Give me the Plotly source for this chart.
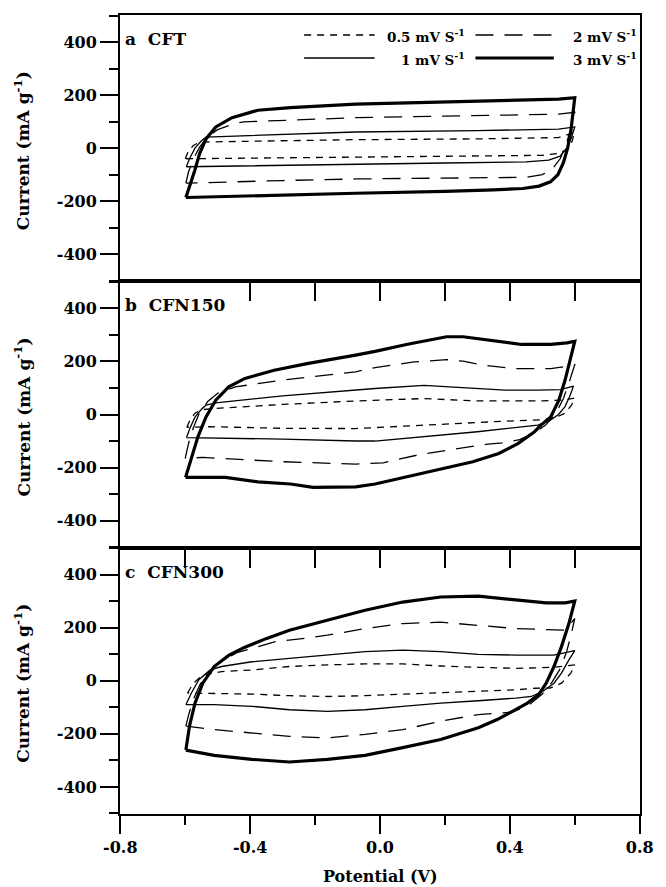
import plotly.graph_objects as go

# ---------------- data (Potential V, Current mA/g) ----------------
RATES = ["0.5", "1", "2", "3"]
PANEL_LABELS = ["a\u00a0\u00a0CFT", "b\u00a0\u00a0CFN150", "c\u00a0\u00a0CFN300"]
X_TICKS = [-0.8, -0.4, 0.0, 0.4, 0.8]
X_TICKTEXT = ["-0.8", "-0.4", "0.0", "0.4", "0.8"]
Y_TICKS = [-400, -200, 0, 200, 400]
Y_TICKTEXT = ["-400", "-200", "0", "200", "400"]

# panel a : CFT
A_05_V = [-0.60, -0.59, -0.575, -0.556, -0.30, -0.075, 0.30, 0.55, 0.60, 0.59, 0.575, 0.55, 0.50, 0.20, -0.075, -0.40, -0.60]
A_05_I = [-40, -10, 10, 23, 28, 32, 35, 40, 60, 20, -5, -20, -27, -30, -32, -36, -40]
A_1_V = [-0.597, -0.585, -0.57, -0.55, -0.536, -0.30, -0.075, 0.30, 0.55, 0.60, 0.59, 0.575, 0.555, 0.52, 0.45, 0.20, -0.075, -0.40, -0.597]
A_1_I = [-70, -35, 0, 28, 42, 52, 61, 66, 72, 80, 40, 0, -30, -45, -52, -56, -60, -65, -70]
A_2_V = [-0.598, -0.59, -0.575, -0.555, -0.53, -0.50, -0.45, -0.42, -0.075, 0.30, 0.55, 0.60, 0.59, 0.575, 0.555, 0.53, 0.50, 0.45, 0.20, -0.075, -0.30, -0.577, -0.598]
A_2_I = [-132, -90, -40, 5, 45, 70, 92, 99, 115, 122, 128, 135, 80, 20, -40, -80, -100, -110, -112, -116, -122, -129, -132]
A_3_V = [-0.598, -0.585, -0.571, -0.556, -0.536, -0.506, -0.456, -0.376, -0.276, -0.075, 0.20, 0.40, 0.55, 0.60, 0.595, 0.588, 0.578, 0.565, 0.548, 0.525, 0.49, 0.44, 0.35, 0.20, -0.075, -0.30, -0.50, -0.598]
A_3_I = [-186, -140, -85, -21, 35, 80, 115, 143, 153, 166, 175, 180, 185, 190, 130, 65, 0, -55, -100, -127, -143, -152, -157, -163, -170, -177, -182, -186]

# panel b : CFN150
B_05_V = [-0.595, -0.585, -0.57, -0.55, -0.506, -0.30, -0.075, -0.015, 0.135, 0.30, 0.50, 0.57, 0.60, 0.59, 0.57, 0.54, 0.50, 0.386, 0.20, -0.015, -0.075, -0.30, -0.526, -0.595]
B_05_I = [-48, -20, 5, 18, 23, 38, 51, 54, 60, 51, 51, 55, 62, 35, 5, -12, -20, -25, -36, -49, -53, -52, -46, -48]
B_1_V = [-0.596, -0.585, -0.57, -0.55, -0.536, -0.506, -0.30, -0.075, -0.015, 0.135, 0.236, 0.386, 0.486, 0.556, 0.596, 0.585, 0.57, 0.55, 0.52, 0.486, 0.30, 0.135, -0.015, -0.075, -0.30, -0.596]
B_1_I = [-87, -50, -10, 20, 35, 44, 70, 94, 98, 110, 102, 92, 92, 94, 107, 70, 30, 0, -25, -40, -65, -84, -100, -100, -93, -87]
B_2_V = [-0.60, -0.59, -0.575, -0.555, -0.53, -0.50, -0.446, -0.30, -0.075, -0.015, 0.105, 0.205, 0.256, 0.316, 0.416, 0.526, 0.576, 0.60, 0.585, 0.565, 0.54, 0.51, 0.476, 0.43, 0.376, 0.326, 0.22, 0.115, 0.01, -0.075, -0.30, -0.546, -0.60]
B_2_I = [-165, -110, -50, 10, 50, 80, 104, 130, 161, 177, 198, 207, 201, 186, 173, 173, 182, 188, 130, 60, 0, -40, -70, -95, -107, -113, -132, -153, -182, -187, -178, -162, -165]
B_3_V = [-0.599, -0.581, -0.561, -0.536, -0.506, -0.466, -0.416, -0.326, -0.225, -0.075, -0.015, 0.085, 0.205, 0.256, 0.336, 0.436, 0.526, 0.576, 0.60, 0.585, 0.57, 0.551, 0.526, 0.496, 0.476, 0.426, 0.366, 0.286, 0.185, 0.085, -0.015, -0.075, -0.206, -0.276, -0.376, -0.476, -0.599]
B_3_I = [-237, -160, -84, -9, 54, 104, 136, 167, 192, 224, 238, 265, 293, 293, 280, 264, 264, 270, 276, 205, 129, 54, -9, -40, -65, -109, -147, -178, -207, -235, -262, -273, -275, -262, -254, -237, -237]

# panel c : CFN300
C_05_V = [-0.593, -0.575, -0.546, -0.488, -0.395, -0.279, -0.162, -0.046, 0.070, 0.187, 0.303, 0.419, 0.535, 0.60, 0.588, 0.559, 0.524, 0.478, 0.419, 0.303, 0.187, 0.070, -0.046, -0.162, -0.279, -0.395, -0.511, -0.593]
C_05_I = [-46, -9, 22, 35, 41, 54, 60, 64, 64, 56, 51, 47, 51, 60, 29, -9, -27, -28, -34, -40, -46, -52, -56, -59, -56, -50, -46, -46]
C_1_V = [-0.598, -0.581, -0.558, -0.523, -0.488, -0.395, -0.279, -0.162, -0.046, 0.070, 0.187, 0.303, 0.419, 0.535, 0.60, 0.582, 0.559, 0.536, 0.501, 0.466, 0.419, 0.303, 0.187, 0.070, -0.046, -0.162, -0.279, -0.395, -0.511, -0.598]
C_1_I = [-90, -46, 4, 41, 54, 72, 85, 97, 110, 116, 110, 100, 97, 97, 114, 79, 29, -9, -40, -59, -65, -75, -84, -96, -109, -115, -109, -96, -90, -90]
C_2_V = [-0.598, -0.59, -0.575, -0.555, -0.53, -0.50, -0.441, -0.325, -0.232, -0.162, -0.046, 0.070, 0.187, 0.303, 0.419, 0.571, 0.60, 0.59, 0.575, 0.555, 0.53, 0.50, 0.46, 0.408, 0.303, 0.187, 0.070, -0.046, -0.162, -0.279, -0.395, -0.511, -0.598]
C_2_I = [-171, -130, -70, -15, 30, 65, 106, 147, 160, 172, 197, 216, 221, 210, 197, 191, 235, 180, 110, 45, -5, -50, -90, -118, -127, -152, -184, -202, -215, -209, -196, -184, -171]
C_3_V = [-0.598, -0.587, -0.570, -0.546, -0.511, -0.465, -0.418, -0.349, -0.279, -0.162, -0.046, 0.070, 0.187, 0.303, 0.419, 0.512, 0.571, 0.600, 0.582, 0.559, 0.536, 0.512, 0.489, 0.454, 0.408, 0.361, 0.303, 0.187, 0.070, -0.046, -0.162, -0.279, -0.395, -0.511, -0.598]
C_3_I = [-261, -171, -84, -9, 54, 97, 126, 160, 191, 229, 266, 297, 316, 319, 306, 294, 294, 301, 216, 129, 54, -9, -52, -84, -115, -146, -177, -221, -252, -281, -296, -306, -296, -281, -261]

PANELS = [
    {"0.5": (A_05_V, A_05_I), "1": (A_1_V, A_1_I), "2": (A_2_V, A_2_I), "3": (A_3_V, A_3_I)},
    {"0.5": (B_05_V, B_05_I), "1": (B_1_V, B_1_I), "2": (B_2_V, B_2_I), "3": (B_3_V, B_3_I)},
    {"0.5": (C_05_V, C_05_I), "1": (C_1_V, C_1_I), "2": (C_2_V, C_2_I), "3": (C_3_V, C_3_I)},
]

# ---------------- styling ----------------
W, H = 666, 887
ML, MR, MT, MB = 120, 15, 15, 73
PW, PH = W - ML - MR, H - MT - MB
FONT = "DejaVu Serif"
STYLE = {
    "0.5": dict(width=1.3, dash="7px,6px"),
    "1": dict(width=1.3, dash="solid"),
    "2": dict(width=1.3, dash="18px,11px"),
    "3": dict(width=3.2, dash="solid"),
}

def xp(px):
    return (px - ML) / PW

def yp(py):
    return (H - MB - py) / PH

fig = go.Figure()
domains = [[2 / 3, 1], [1 / 3, 2 / 3], [0, 1 / 3]]
for k, panel in enumerate(PANELS):
    sfx = "" if k == 0 else str(k + 1)
    for r in RATES:
        v, i = panel[r]
        fig.add_trace(go.Scatter(x=v, y=i, mode="lines", showlegend=False,
                                 line=dict(color="black", **STYLE[r]),
                                 xaxis="x" + sfx, yaxis="y" + sfx, hoverinfo="skip"))

    xa = dict(domain=[0, 1], anchor="y" + sfx, range=[-0.801, 0.801],
              showline=True, linecolor="black", linewidth=2, mirror=True,
              ticks="outside", ticklen=18, tickwidth=2, tickcolor="black",
              showgrid=False, zeroline=False)
    if k == 2:
        xa.update(tickmode="array", tickvals=X_TICKS, ticktext=X_TICKTEXT,
                  tickfont=dict(family=FONT, size=16, color="black", weight="bold"),
                  minor=dict(tickmode="array", tickvals=[-0.6, -0.2, 0.2, 0.6],
                             ticks="outside", ticklen=9, tickwidth=2, tickcolor="black"))
    else:
        tv = [-0.4, -0.2, 0.0, 0.2, 0.4, 0.6] if k == 0 else [-0.6, -0.4, -0.2, 0.0, 0.2, 0.4, 0.6]
        xa.update(tickmode="array", tickvals=tv, showticklabels=False)
    ya = dict(domain=domains[k], anchor="x" + sfx, range=[-502, 502],
              showline=True, linecolor="black", linewidth=2, mirror=True,
              ticks="outside", ticklen=18, tickwidth=2, tickcolor="black",
              tickmode="array", tickvals=Y_TICKS, ticktext=Y_TICKTEXT,
              tickfont=dict(family=FONT, size=16, color="black", weight="bold"),
              minor=dict(tickmode="array", tickvals=[-500, -300, -100, 100, 300, 500],
                         ticks="outside", ticklen=9, tickwidth=2, tickcolor="black"),
              showgrid=False, zeroline=False)
    fig.layout["xaxis" + sfx] = xa
    fig.layout["yaxis" + sfx] = ya

annotations = []
shapes = []
for k in range(3):
    sfx = "" if k == 0 else str(k + 1)
    annotations.append(dict(text=PANEL_LABELS[k], xref="paper", x=0, xshift=3, xanchor="left",
                            yref="y" + sfx, y=400, yanchor="middle", yshift=3, showarrow=False,
                            font=dict(family=FONT, size=17, color="black", weight="bold")))
    annotations.append(dict(text="Current (mA g<sup>-1</sup>)", xref="paper", x=0, xshift=-98,
                            xanchor="center", yref="paper", y=sum(domains[k]) / 2, yshift=-3,
                            yanchor="middle", textangle=-90, showarrow=False,
                            font=dict(family=FONT, size=17, color="black", weight="bold")))
annotations.append(dict(text="Potential (V)", xref="paper", x=0.5, xanchor="center",
                        yref="paper", y=0, yshift=-62, yanchor="middle", showarrow=False,
                        font=dict(family=FONT, size=16, color="black", weight="bold")))

# legend (drawn by hand: long line samples)
LEG_ROWS = [35, 58]
LEG_ITEMS = [("0.5", 0, 0), ("2", 0, 1), ("1", 1, 0), ("3", 1, 1)]
LEG_COLS = [(308, 380, 474), (483, 563, 650)]
for r, row, col in LEG_ITEMS:
    x0, x1, xt = LEG_COLS[col]
    y = LEG_ROWS[row]
    shapes.append(dict(type="line", xref="paper", yref="paper", x0=xp(x0), x1=xp(x1),
                       y0=yp(y), y1=yp(y), line=dict(color="black", **STYLE[r])))
    annotations.append(dict(text=r + " mV S<sup>-1</sup>", xref="paper", x=xp(xt), xanchor="right",
                            yref="paper", y=yp(y + 1), yanchor="middle", showarrow=False,
                            font=dict(family=FONT, size=13.5, color="black", weight="bold")))

fig.update_layout(width=W, height=H, margin=dict(l=ML, r=MR, t=MT, b=MB),
                  paper_bgcolor="white", plot_bgcolor="rgba(0,0,0,0)",
                  annotations=annotations, shapes=shapes, showlegend=False)
fig.write_html("out.html")
